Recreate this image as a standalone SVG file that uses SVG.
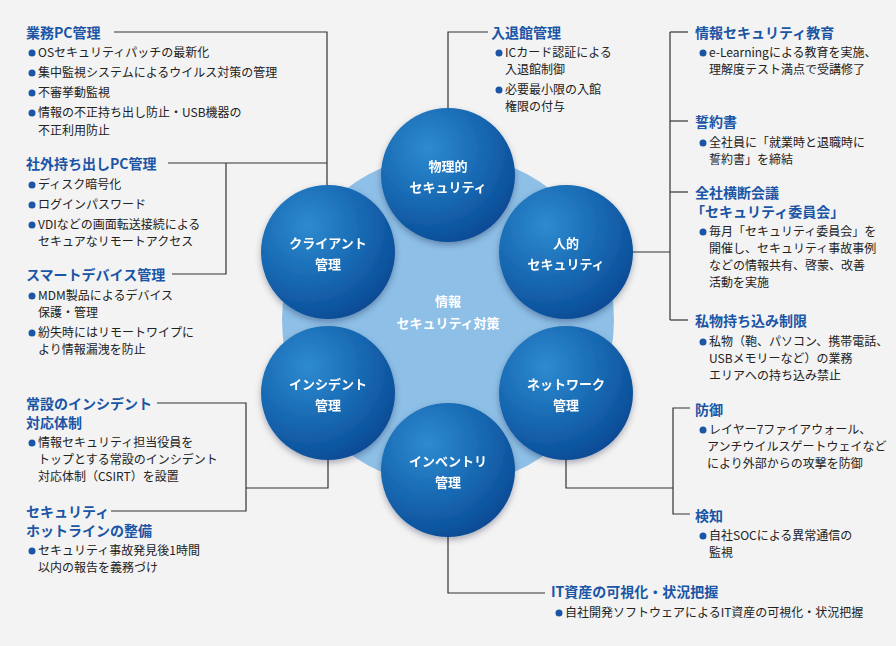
<svg xmlns="http://www.w3.org/2000/svg" width="896" height="646" viewBox="0 0 896 646">
<defs>
<radialGradient id="g" cx="0.35" cy="0.3" r="0.8">
<stop offset="0" stop-color="#2e8bd0"/><stop offset="0.6" stop-color="#1463ad"/><stop offset="1" stop-color="#0b4690"/>
</radialGradient>
<filter id="sh" x="-20%" y="-20%" width="140%" height="150%"><feDropShadow dx="0" dy="3" stdDeviation="3" flood-color="#003" flood-opacity="0.3"/></filter>
</defs>
<style>
text{font-family:"Noto Sans CJK JP","Noto Sans",sans-serif}
.t{font-size:14px;font-weight:bold;fill:#1a55a6}
.b{font-size:12px;fill:#222}
.d{fill:#1a55a6}
.c{font-size:13px;font-weight:bold;fill:#fff;text-anchor:middle}
.ln{fill:none;stroke:#333;stroke-width:1.2}
</style>
<rect width="896" height="646" fill="#f3f3f3"/>
<circle cx="448" cy="320" r="166" fill="#8dbfe7"/>
<g id="connectors" class="ln">
<polyline points="114,32 327,32 327,185"/>
<line x1="168" y1="163" x2="327" y2="163"/>
<polyline points="172,274 226,274 226,163"/>
<polyline points="448,108 448,32 488,32"/>
<line x1="670" y1="32" x2="670" y2="320"/>
<line x1="670" y1="32" x2="688" y2="32"/>
<line x1="670" y1="121" x2="688" y2="121"/>
<line x1="670" y1="192" x2="688" y2="192"/>
<line x1="670" y1="320" x2="688" y2="320"/>
<line x1="633" y1="252" x2="670" y2="252"/>
<polyline points="690,408 673,408 673,514 690,514"/>
<polyline points="566,460 566,488 673,488"/>
<polyline points="157,403 246,403 246,511 111,511"/>
<polyline points="246,488 328,488 328,460"/>
<polyline points="448,537 448,593 545,593"/>
</g>
<text x="448" y="306" class="c">情報</text>
<text x="448" y="328" class="c">セキュリティ対策</text>
<g id="physical" filter="url(#sh)"><circle cx="448" cy="175" r="67" fill="url(#g)"/><text x="448" y="171" class="c">物理的</text><text x="448" y="192" class="c">セキュリティ</text></g>
<g id="client" filter="url(#sh)"><circle cx="328" cy="252" r="67" fill="url(#g)"/><text x="328" y="248" class="c">クライアント</text><text x="328" y="269" class="c">管理</text></g>
<g id="human" filter="url(#sh)"><circle cx="566" cy="252" r="67" fill="url(#g)"/><text x="566" y="248" class="c">人的</text><text x="566" y="269" class="c">セキュリティ</text></g>
<g id="incident" filter="url(#sh)"><circle cx="328" cy="393" r="67" fill="url(#g)"/><text x="328" y="389" class="c">インシデント</text><text x="328" y="410" class="c">管理</text></g>
<g id="network" filter="url(#sh)"><circle cx="566" cy="393" r="67" fill="url(#g)"/><text x="566" y="389" class="c">ネットワーク</text><text x="566" y="410" class="c">管理</text></g>
<g id="inventory" filter="url(#sh)"><circle cx="448" cy="470" r="67" fill="url(#g)"/><text x="448" y="466" class="c">インベントリ</text><text x="448" y="487" class="c">管理</text></g>

<g id="pc">
<text x="26" y="38" class="t">業務PC管理</text>
<circle cx="32" cy="53" r="3.5" class="d"/><text x="38" y="57" class="b">OSセキュリティパッチの最新化</text>
<circle cx="32" cy="73" r="3.5" class="d"/><text x="38" y="77" class="b">集中監視システムによるウイルス対策の管理</text>
<circle cx="32" cy="93" r="3.5" class="d"/><text x="38" y="97" class="b">不審挙動監視</text>
<circle cx="32" cy="113" r="3.5" class="d"/><text x="38" y="117" class="b">情報の不正持ち出し防止・USB機器の</text>
<text x="38" y="135" class="b">不正利用防止</text>
</g>
<g id="outpc">
<text x="26" y="169" class="t">社外持ち出しPC管理</text>
<circle cx="32" cy="185" r="3.5" class="d"/><text x="38" y="189" class="b">ディスク暗号化</text>
<circle cx="32" cy="205" r="3.5" class="d"/><text x="38" y="209" class="b">ログインパスワード</text>
<circle cx="32" cy="225" r="3.5" class="d"/><text x="38" y="229" class="b">VDIなどの画面転送接続による</text>
<text x="38" y="246" class="b">セキュアなリモートアクセス</text>
</g>
<g id="smart">
<text x="26" y="280" class="t">スマートデバイス管理</text>
<circle cx="32" cy="296" r="3.5" class="d"/><text x="38" y="300" class="b">MDM製品によるデバイス</text>
<text x="38" y="317" class="b">保護・管理</text>
<circle cx="32" cy="333" r="3.5" class="d"/><text x="38" y="337" class="b">紛失時にはリモートワイプに</text>
<text x="38" y="354" class="b">より情報漏洩を防止</text>
</g>
<g id="csirt">
<text x="26" y="409" class="t">常設のインシデント</text>
<text x="26" y="428" class="t">対応体制</text>
<circle cx="32" cy="443" r="3.5" class="d"/><text x="38" y="447" class="b">情報セキュリティ担当役員を</text>
<text x="38" y="464" class="b">トップとする常設のインシデント</text>
<text x="38" y="481" class="b">対応体制（CSIRT）を設置</text>
</g>
<g id="hotline">
<text x="26" y="517" class="t">セキュリティ</text>
<text x="26" y="536" class="t">ホットラインの整備</text>
<circle cx="32" cy="551" r="3.5" class="d"/><text x="38" y="555" class="b">セキュリティ事故発見後1時間</text>
<text x="38" y="572" class="b">以内の報告を義務づけ</text>
</g>
<g id="entry">
<text x="491" y="38" class="t">入退館管理</text>
<circle cx="499" cy="53" r="3.5" class="d"/><text x="505" y="57" class="b">ICカード認証による</text>
<text x="505" y="74" class="b">入退館制御</text>
<circle cx="499" cy="90" r="3.5" class="d"/><text x="505" y="94" class="b">必要最小限の入館</text>
<text x="505" y="111" class="b">権限の付与</text>
</g>
<g id="edu">
<text x="695" y="38" class="t">情報セキュリティ教育</text>
<circle cx="703" cy="53" r="3.5" class="d"/><text x="709" y="57" class="b">e-Learningによる教育を実施、</text>
<text x="709" y="74" class="b">理解度テスト満点で受講修了</text>
</g>
<g id="pledge">
<text x="695" y="127" class="t">誓約書</text>
<circle cx="703" cy="143" r="3.5" class="d"/><text x="709" y="147" class="b">全社員に「就業時と退職時に</text>
<text x="709" y="164" class="b">誓約書」を締結</text>
</g>
<g id="committee">
<text x="695" y="198" class="t">全社横断会議</text>
<text x="691" y="217" class="t">「セキュリティ委員会」</text>
<circle cx="703" cy="232" r="3.5" class="d"/><text x="709" y="236" class="b">毎月「セキュリティ委員会」を</text>
<text x="709" y="253" class="b">開催し、セキュリティ事故事例</text>
<text x="709" y="270" class="b">などの情報共有、啓蒙、改善</text>
<text x="709" y="287" class="b">活動を実施</text>
</g>
<g id="private">
<text x="695" y="326" class="t">私物持ち込み制限</text>
<circle cx="703" cy="342" r="3.5" class="d"/><text x="709" y="346" class="b">私物（鞄、パソコン、携帯電話、</text>
<text x="709" y="363" class="b">USBメモリーなど）の業務</text>
<text x="709" y="380" class="b">エリアへの持ち込み禁止</text>
</g>
<g id="defense">
<text x="695" y="415" class="t">防御</text>
<circle cx="703" cy="430" r="3.5" class="d"/><text x="709" y="434" class="b">レイヤー7ファイアウォール、</text>
<text x="707" y="451" class="b">アンチウイルスゲートウェイなど</text>
<text x="707" y="468" class="b">により外部からの攻撃を防御</text>
</g>
<g id="detect">
<text x="695" y="521" class="t">検知</text>
<circle cx="703" cy="536" r="3.5" class="d"/><text x="709" y="540" class="b">自社SOCによる異常通信の</text>
<text x="709" y="557" class="b">監視</text>
</g>
<g id="itasset">
<text x="551" y="597" class="t">IT資産の可視化・状況把握</text>
<circle cx="559" cy="613" r="3.5" class="d"/><text x="565" y="617" class="b">自社開発ソフトウェアによるIT資産の可視化・状況把握</text>
</g>
</svg>
